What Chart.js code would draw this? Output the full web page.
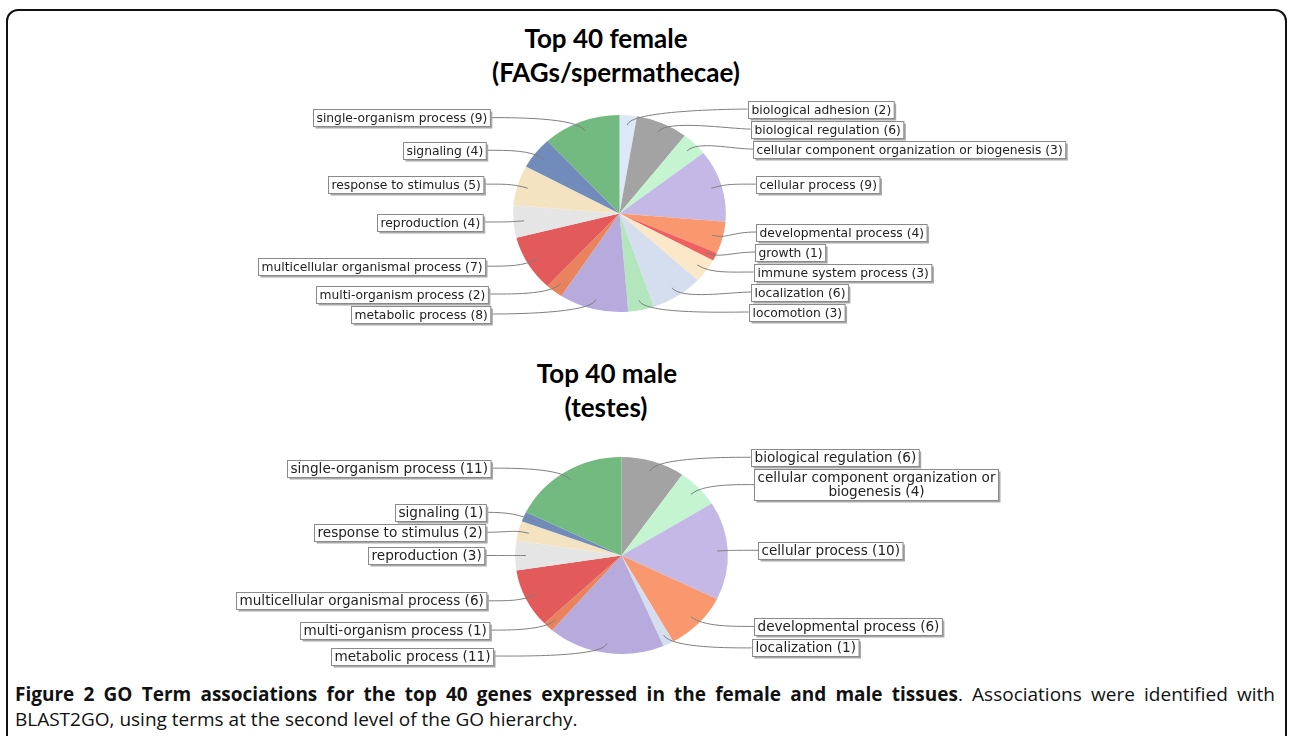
<!DOCTYPE html>
<html>
<head>
<meta charset="utf-8">
<script src="https://cdn.jsdelivr.net/npm/chart.js@4.4.1/dist/chart.umd.min.js"></script>
<style>
  html, body { margin: 0; padding: 0; background: #fff; overflow: hidden; }
  #page { position: relative; width: 1289px; height: 736px; overflow: hidden; }
  #frame { position: absolute; left: 6px; top: 9px; width: 1277px; height: 800px; border: 2px solid #111; border-radius: 12px; }
  .title { position: absolute; width: 400px; text-align: center; font-family: Lato, sans-serif; font-weight: bold; font-size: 26px; line-height: 34px; color: #000; }
  canvas { position: absolute; left: 0; }
  .caption { position: absolute; left: 15px; width: 1260px; font-family: 'Open Sans', sans-serif; font-size: 19px; line-height: 25px; color: #111; white-space: nowrap; }
  #cap1 { top: 682px; text-align: justify; text-align-last: justify; white-space: normal; }
  #cap2 { top: 707px; }
</style>
</head>
<body>
<div id="page">
  <div id="frame"></div>
  <div class="title" style="left:406px; top:21px;">Top 40 female</div>
  <div class="title" style="left:416px; top:55px;">(FAGs/spermathecae)</div>
  <div class="title" style="left:407px; top:356px;">Top 40 male</div>
  <div class="title" style="left:406px; top:390px;">(testes)</div>
  <canvas id="femaleChart" width="1289" height="265" style="top:90px;"></canvas>
  <canvas id="maleChart" width="1289" height="240" style="top:435px;"></canvas>
  <div class="caption" id="cap1"><b>Figure 2 GO Term associations for the top 40 genes expressed in the female and male tissues</b>. Associations were identified with</div>
  <div class="caption" id="cap2">BLAST2GO, using terms at the second level of the GO hierarchy.</div>
</div>
<script>
// GO terms (level 2) and gene counts, top 40 female genes
const femaleTerms = ['biological adhesion', 'biological regulation', 'cellular component organization or biogenesis',
  'cellular process', 'developmental process', 'growth', 'immune system process', 'localization', 'locomotion',
  'metabolic process', 'multi-organism process', 'multicellular organismal process', 'reproduction',
  'response to stimulus', 'signaling', 'single-organism process'];
const femaleCounts = [2, 6, 3, 9, 4, 1, 3, 6, 3, 8, 2, 7, 4, 5, 4, 9];

// top 40 male genes
const maleTerms = ['biological regulation', 'cellular component organization or biogenesis', 'cellular process',
  'developmental process', 'localization', 'metabolic process', 'multi-organism process',
  'multicellular organismal process', 'reproduction', 'response to stimulus', 'signaling', 'single-organism process'];
const maleCounts = [6, 4, 10, 6, 1, 11, 1, 6, 3, 2, 1, 11];

// same colour for a term in both pies
const termColors = {
  'biological adhesion': '#dce7f7',
  'biological regulation': '#a3a3a3',
  'cellular component organization or biogenesis': '#c4f5d0',
  'cellular process': '#c3b8e6',
  'developmental process': '#f9986f',
  'growth': '#f0605e',
  'immune system process': '#fae8c8',
  'localization': '#d5deef',
  'locomotion': '#b3e6bd',
  'metabolic process': '#b6abdc',
  'multi-organism process': '#e8835e',
  'multicellular organismal process': '#e35a5a',
  'reproduction': '#e5e5e5',
  'response to stimulus': '#f3e3c1',
  'signaling': '#718bbb',
  'single-organism process': '#72ba80'
};

const stretchX = 1.08;   // the original pies are a bit wider than tall
const lineH = 14;

function wrapText(ctx, text, maxW) {
  const words = text.split(' ');
  const lines = [];
  let cur = '';
  words.forEach(w => {
    const t = cur ? cur + ' ' + w : w;
    if (cur && ctx.measureText(t).width > maxW) { lines.push(cur); cur = w; } else { cur = t; }
  });
  lines.push(cur);
  return lines;
}

// push overlapping labels apart, keeping them between lo and hi
function spread(items, lo, hi) {
  items.sort((a, b) => a.y - b.y);
  let groups = items.map(it => ({ items: [it], size: it.slot, want: it.y - it.slot / 2, top: 0 }));
  let merged = true;
  while (merged) {
    merged = false;
    groups.forEach(g => { g.top = Math.min(Math.max(g.want, lo), hi - g.size); });
    for (let i = 0; i + 1 < groups.length; i++) {
      const a = groups[i], b = groups[i + 1];
      if (a.top + a.size > b.top + 0.01) {
        const its = a.items.concat(b.items);
        let off = 0, sum = 0;
        its.forEach(it => { sum += (it.y - it.slot / 2) - off; off += it.slot; });
        groups.splice(i, 2, { items: its, size: a.size + b.size, want: sum / its.length, top: 0 });
        merged = true;
        break;
      }
    }
  }
  groups.forEach(g => {
    let t = g.top;
    g.items.forEach(it => { it.ly = t + it.slot / 2; t += it.slot; });
  });
}

const pieLabels = {
  id: 'pieLabels',
  beforeDatasetsDraw(chart) {
    const arc = chart.getDatasetMeta(0).data[0];
    const ctx = chart.ctx;
    ctx.save();
    ctx.translate(arc.x, arc.y);
    ctx.scale(stretchX, 1);
    ctx.translate(-arc.x, -arc.y);
  },
  afterDatasetsDraw(chart) {
    chart.ctx.restore();
  },
  afterDraw(chart, args, opts) {
    const ctx = chart.ctx;
    const meta = chart.getDatasetMeta(0);
    const values = chart.data.datasets[0].data;
    const cx = meta.data[0].x, cy = meta.data[0].y, r = meta.data[0].outerRadius;
    const rx = r * stretchX;
    ctx.save();
    ctx.font = opts.fontSize + 'px "DejaVu Sans"';

    const items = meta.data.map((arc, i) => {
      const mid = (arc.startAngle + arc.endAngle) / 2;
      const lines = wrapText(ctx, chart.data.labels[i] + ' (' + values[i] + ')', opts.maxWidth);
      const boxH = lines.length * lineH + 3;
      const boxW = Math.max(...lines.map(l => ctx.measureText(l).width)) + 6;
      return { cos: Math.cos(mid), sin: Math.sin(mid), lines, boxH, boxW, slot: boxH + 3,
               y: cy + Math.sin(mid) * r * 1.045 };
    });
    const right = items.filter(it => it.cos >= 0);
    const left = items.filter(it => it.cos < 0);
    spread(right, cy - r * 1.06 - 10, cy + r + 10);
    spread(left, cy - r * 1.06 - 10, cy + r + 12);

    const A = r * 1.39, B = r * 3;
    items.forEach(it => {
      const dy = it.ly - cy;
      const dx = A * Math.sqrt(Math.max(0, 1 - (dy / B) * (dy / B)));
      const isRight = it.cos >= 0;
      const tx = isRight ? cx + dx : cx - dx;
      it.bx = isRight ? tx : tx - it.boxW;
      it.by = it.ly - it.boxH / 2;

      // link curve: label -> edge of link area -> elbow -> point inside slice
      ctx.beginPath();
      ctx.moveTo(tx, it.ly);
      ctx.bezierCurveTo(isRight ? cx + rx * 1.05 : cx - rx * 1.05, it.ly,
                        cx + it.cos * rx * 1.05, cy + it.sin * r * 1.05,
                        cx + it.cos * rx * 0.9, cy + it.sin * r * 0.9);
      ctx.strokeStyle = '#7f7f7f';
      ctx.lineWidth = 1;
      ctx.stroke();
    });

    items.forEach(it => {
      const x = Math.round(it.bx) + 0.5, y = Math.round(it.by) + 0.5;
      ctx.fillStyle = '#a8a8a8';
      ctx.fillRect(x + 2, y + 2, it.boxW, it.boxH);
      ctx.fillStyle = '#fff';
      ctx.fillRect(x, y, it.boxW, it.boxH);
      ctx.strokeStyle = '#8a8a8a';
      ctx.strokeRect(x, y, it.boxW, it.boxH);
      ctx.fillStyle = '#222';
      ctx.textAlign = 'center';
      ctx.textBaseline = 'middle';
      it.lines.forEach((l, k) => {
        ctx.fillText(l, x + it.boxW / 2, y + 2 + lineH / 2 + k * lineH);
      });
    });
    ctx.restore();
  }
};

function makePie(id, terms, counts, cx, cy, labelFont, maxLabelWidth) {
  const canvas = document.getElementById(id);
  const W = canvas.width, H = canvas.height;
  return new Chart(canvas, {
    type: 'pie',
    data: {
      labels: terms,
      datasets: [{
        data: counts,
        backgroundColor: terms.map(t => termColors[t]),
        borderWidth: 0
      }]
    },
    options: {
      responsive: false,
      animation: false,
      devicePixelRatio: 1,
      radius: 98.5,
      layout: { padding: { left: cx - 100, right: W - cx - 100, top: cy - 100, bottom: H - cy - 100 } },
      plugins: {
        legend: { display: false },
        tooltip: { enabled: false },
        pieLabels: { fontSize: labelFont, maxWidth: maxLabelWidth }
      }
    },
    plugins: [pieLabels]
  });
}

try {
  makePie('femaleChart', femaleTerms, femaleCounts, 619.5, 123.5, 12.3, 370);
  makePie('maleChart', maleTerms, maleCounts, 621.5, 120.5, 13.6, 290);
} catch (error) {
  console.error('Error rendering the chart:', error);
}
</script>
</body>
</html>
